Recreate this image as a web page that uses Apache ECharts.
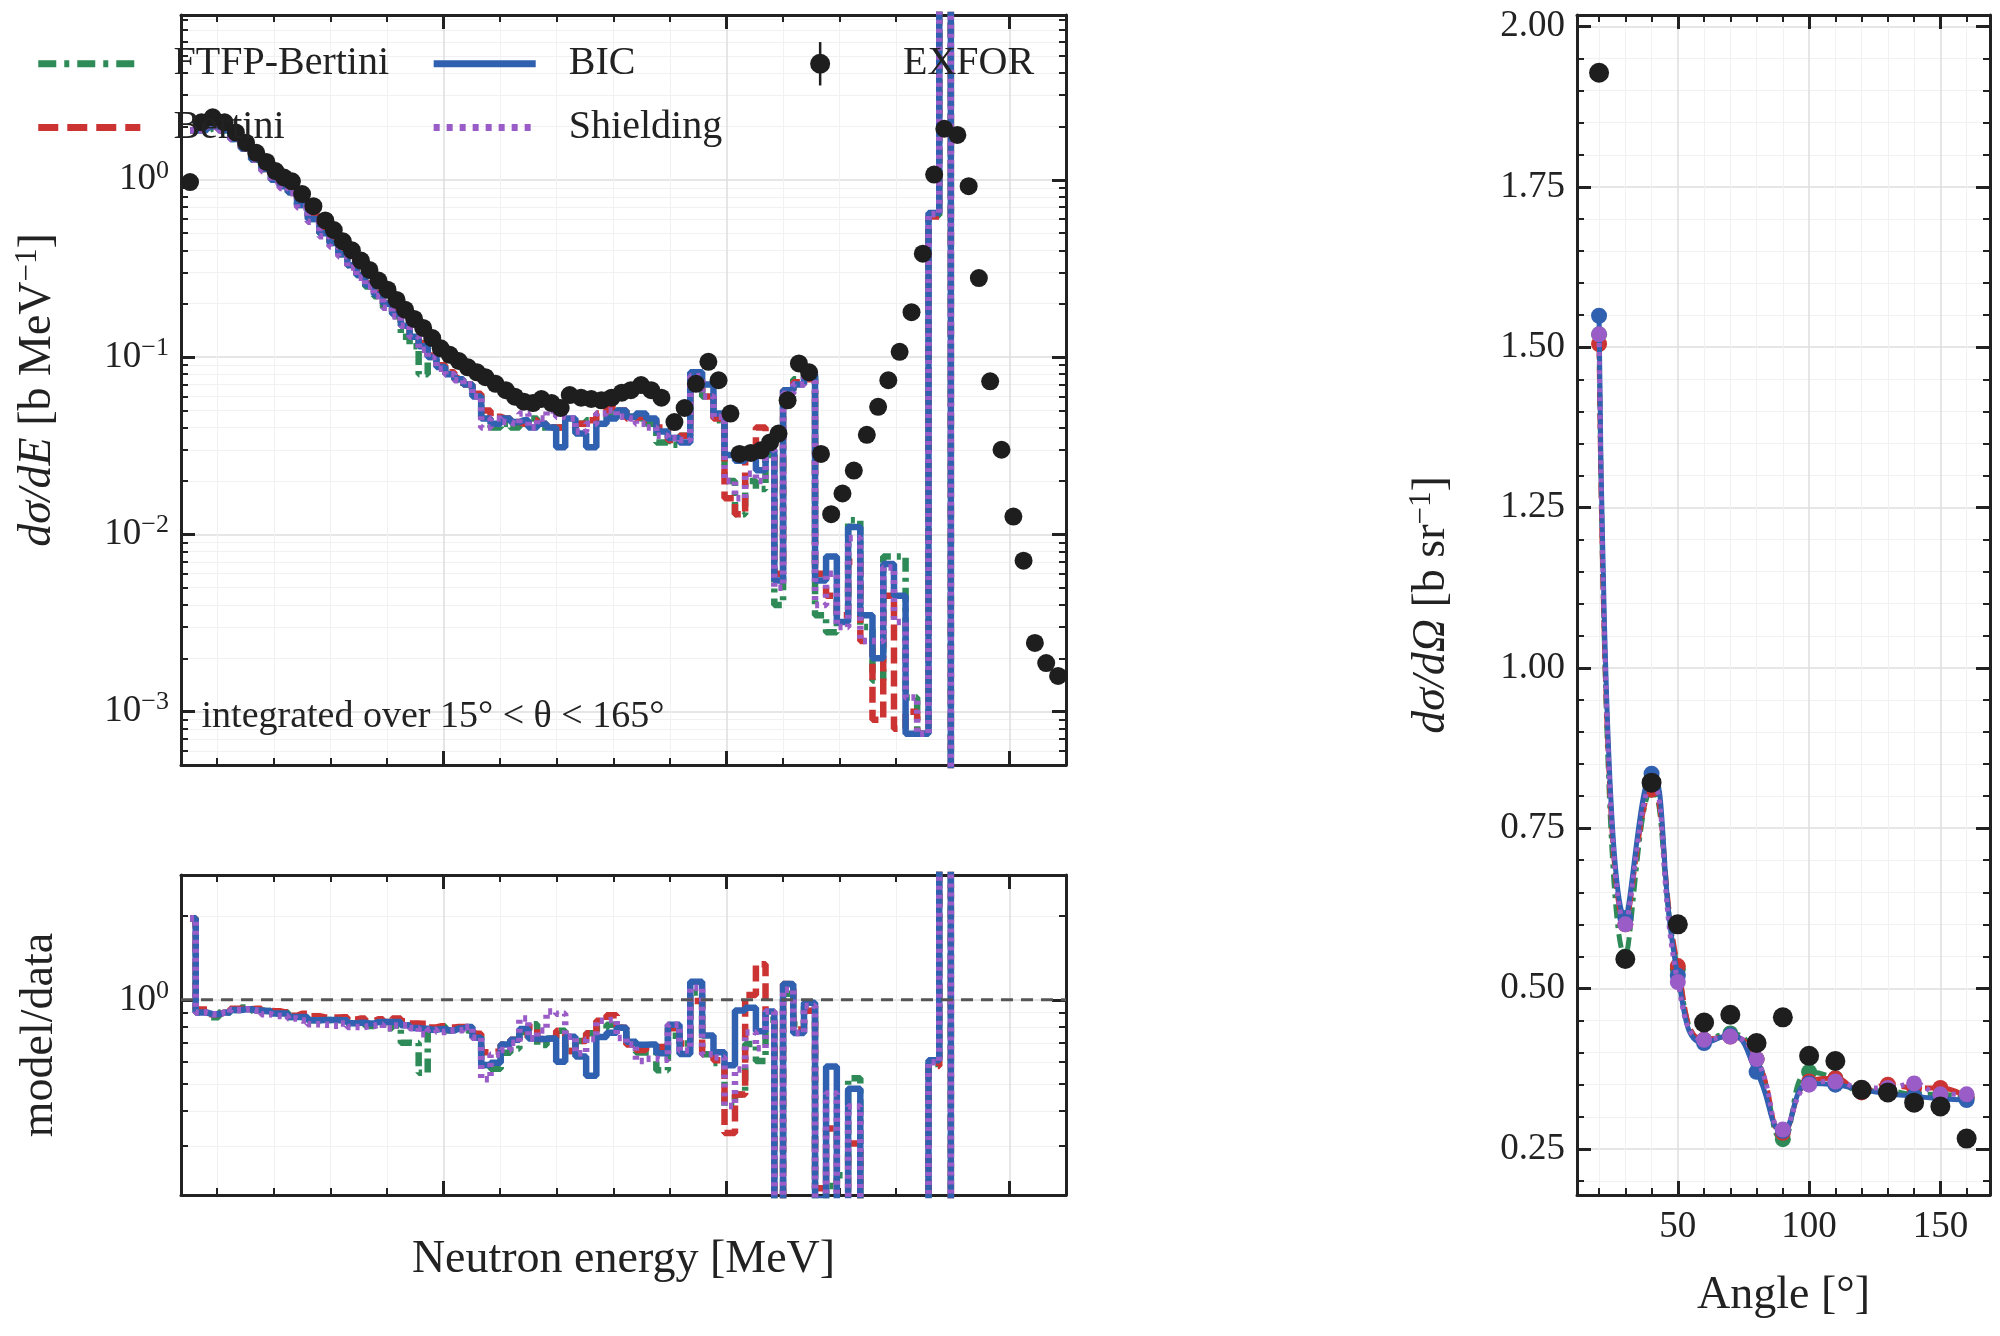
<!DOCTYPE html>
<html><head><meta charset="utf-8">
<script src="https://cdn.jsdelivr.net/npm/echarts@6/dist/echarts.min.js"></script>
<style>html,body{margin:0;padding:0;background:#fff}#c{width:2000px;height:1336px}</style>
</head><body><div id="c"></div>
<script>
// ---- data ----
const energy = [5.2,7.2,9.2,11.3,13.3,15.1,16.9,18.7,20.3,21.8,
23.2,25.0,27.0,29.1,30.6,32.2,33.8,35.4,36.9,38.5,
40.1,41.7,43.2,44.8,46.4,48.0,49.5,51.1,52.7,54.3,
55.9,57.4,59.2,61.0,62.6,64.2,65.8,67.3,69.1,70.7,
72.3,74.3,76.1,77.9,79.7,81.5,83.1,84.9,86.7,88.5,
90.8,92.6,94.6,96.8,98.6,100.7,102.3,104.3,106.1,107.7,
109.2,110.8,112.8,114.6,116.7,118.5,120.5,122.5,124.8,126.8,
128.6,130.6,132.7,134.7,136.7,138.5,140.8,142.8,144.6,146.6,
148.6,150.7,152.5,154.5,156.5,158.6];
const exforE = [0.97,2.11,2.25,2.11,1.85,1.62,1.42,1.26,1.12,1.03,
0.98,0.83,0.71,0.59,0.52,0.45,0.40,0.35,0.31,0.27,
0.24,0.21,0.185,0.164,0.146,0.128,0.112,0.103,0.095,0.0875,
0.082,0.077,0.0706,0.065,0.0598,0.056,0.055,0.058,0.055,0.0516,
0.061,0.059,0.058,0.057,0.059,0.063,0.065,0.0695,0.065,0.059,
0.043,0.0516,0.0706,0.094,0.074,0.048,0.0284,0.0288,0.0298,0.033,
0.037,0.057,0.092,0.082,0.0284,0.013,0.017,0.0229,0.0364,0.0524,
0.074,0.107,0.179,0.383,1.07,1.94,1.79,0.92,0.279,0.073,
0.030,0.0126,0.0071,0.00244,0.00188,0.00159];
const bicE = [1.9,1.9,2.0,1.9,1.7,1.5,1.3,1.15,1.0,0.92,
0.85,0.72,0.6,0.5,0.44,0.38,0.33,0.29,0.255,0.225,
0.2,0.175,0.15,0.13,0.115,0.1,0.088,0.08,0.075,0.07,
0.06,0.045,0.042,0.045,0.043,0.044,0.04,0.042,0.04,0.031,
0.045,0.037,0.031,0.042,0.045,0.05,0.046,0.048,0.045,0.038,
0.035,0.033,0.082,0.07,0.048,0.028,0.026,0.027,0.023,0.03,
0.0055,0.065,0.07,0.08,0.0055,0.0075,0.0032,0.011,0.0035,0.002,
0.0068,0.0045,0.00075,0.00075,0.65,20,1e-6,1e-6,1e-6,1e-6,
1e-6,1e-6,1e-6,1e-6,1e-6,1e-6];
const bertiniE = [1.9,1.95,2.0,1.9,1.72,1.5,1.32,1.15,1.02,0.93,
0.86,0.74,0.62,0.51,0.45,0.39,0.34,0.3,0.26,0.23,
0.2,0.18,0.155,0.135,0.12,0.102,0.09,0.082,0.076,0.07,
0.062,0.05,0.046,0.045,0.043,0.042,0.044,0.042,0.04,0.04,
0.04,0.042,0.044,0.048,0.052,0.05,0.045,0.046,0.044,0.04,
0.034,0.036,0.07,0.06,0.045,0.016,0.013,0.03,0.04,0.028,
0.006,0.065,0.072,0.075,0.006,0.0045,0.0035,0.007,0.0025,0.0009,
0.0045,0.0008,0.001,0.00075,0.62,20,1e-6,1e-6,1e-6,1e-6,
1e-6,1e-6,1e-6,1e-6,1e-6,1e-6];
const ftfpE = [1.9,1.9,1.95,1.9,1.7,1.52,1.3,1.15,1.0,0.93,
0.85,0.72,0.6,0.5,0.44,0.38,0.33,0.29,0.25,0.22,
0.19,0.17,0.13,0.115,0.08,0.1,0.09,0.08,0.075,0.068,
0.062,0.045,0.04,0.042,0.04,0.043,0.045,0.04,0.04,0.04,
0.04,0.042,0.044,0.045,0.048,0.05,0.046,0.045,0.042,0.033,
0.032,0.036,0.075,0.06,0.044,0.02,0.013,0.02,0.018,0.028,
0.004,0.06,0.075,0.078,0.0035,0.0028,0.004,0.012,0.003,0.0015,
0.0075,0.0075,0.0012,0.00075,0.63,20,1e-6,1e-6,1e-6,1e-6,
1e-6,1e-6,1e-6,1e-6,1e-6,1e-6];
const shieldingE = [1.9,1.9,2.0,1.9,1.7,1.5,1.3,1.12,0.98,0.9,
0.84,0.7,0.58,0.48,0.42,0.37,0.32,0.28,0.25,0.22,
0.19,0.17,0.15,0.13,0.11,0.1,0.086,0.08,0.074,0.07,
0.06,0.04,0.045,0.043,0.042,0.048,0.04,0.045,0.05,0.046,
0.045,0.038,0.042,0.048,0.05,0.046,0.045,0.042,0.04,0.036,
0.035,0.034,0.078,0.06,0.046,0.02,0.016,0.022,0.02,0.03,
0.005,0.062,0.07,0.078,0.004,0.006,0.003,0.0095,0.0025,0.0025,
0.0065,0.0032,0.0012,0.00075,0.64,20,1e-6,1e-6,1e-6,1e-6,
1e-6,1e-6,1e-6,1e-6,1e-6,1e-6];

const angle = [20,30,40,50,60,70,80,90,100,110,120,130,140,150,160];
const exforA = [1.928,0.546,0.821,0.600,0.447,0.459,0.415,0.455,0.395,0.387,0.342,0.338,0.322,0.316,0.266];
const bicA = [1.549,0.61,0.835,0.52,0.415,0.427,0.37,0.278,0.352,0.35,0.342,0.336,0.332,0.328,0.326];
const bertiniA = [1.505,0.60,0.81,0.535,0.42,0.425,0.39,0.275,0.355,0.36,0.338,0.35,0.345,0.345,0.33];
const ftfpA = [1.52,0.55,0.81,0.53,0.42,0.43,0.39,0.265,0.37,0.36,0.34,0.34,0.335,0.335,0.33];
const shieldingA = [1.52,0.60,0.82,0.51,0.42,0.425,0.39,0.28,0.35,0.355,0.345,0.345,0.352,0.335,0.335];

const yTicksAng = [0.25,0.5,0.75,1.0,1.25,1.5,1.75,2.0];
// ---- styling ----
const F = 'Liberation Serif';
const C = {ftfp:'#2e8b57', bertini:'#cc3333', bic:'#3060b0', shield:'#9a5cc6', exfor:'#1e1e1e'};
const models = [
  {name:'FTFP-Bertini', e:ftfpE, a:ftfpA, color:C.ftfp, type:[14,6,4,6], z:2},
  {name:'Bertini', e:bertiniE, a:bertiniA, color:C.bertini, type:[16,7], z:3},
  {name:'BIC', e:bicE, a:bicA, color:C.bic, type:'solid', z:4},
  {name:'Shielding', e:shieldingE, a:shieldingA, color:C.shield, type:[4,5], z:5}
];
const pair = (xs, ys) => xs.map((x,i)=>[x, ys[i]]);
function range(a,b,s){const r=[];for(let v=a;v<=b+1e-9;v+=s)r.push(+v.toFixed(6));return r;}
const sup = e => '10{s|' + (e<0 ? '−'+(-e) : e) + '}';

function xAxes(grid, min, max, majors, minors, labels, name){
  const base = {type:'value', gridIndex:grid, min, max, axisLine:{show:false}, axisLabel:{show:false}};
  return [
    Object.assign({}, base, {position:'bottom', axisLine:{show:true, lineStyle:{color:'#222', width:3}},
      axisTick:{show:true, inside:true, length:14, lineStyle:{color:'#222', width:3}, customValues:majors},
      axisLabel:{show:labels, customValues:majors, fontFamily:F, fontSize:37, color:'#222', margin:14},
      splitLine:{show:true, customValues:majors, lineStyle:{color:'#dedede', width:1.5}},
      name:name||'', nameLocation:'middle', nameGap:55, nameTextStyle:{fontFamily:F, fontSize:46, color:'#222'}}),
    Object.assign({}, base, {position:'bottom', axisTick:{show:true, inside:true, length:7, lineStyle:{color:'#222', width:2}, customValues:minors},
      splitLine:{show:true, customValues:minors, lineStyle:{color:'#f1f1f1', width:1}}}),
    Object.assign({}, base, {position:'top', axisLine:{show:true, lineStyle:{color:'#222', width:3}},
      axisTick:{show:true, inside:true, length:14, lineStyle:{color:'#222', width:3}, customValues:majors}, splitLine:{show:false}}),
    Object.assign({}, base, {position:'top', axisTick:{show:true, inside:true, length:7, lineStyle:{color:'#222', width:2}, customValues:minors}, splitLine:{show:false}})
  ];
}
function yAxes(grid, type, min, max, majors, minors, fmt, name){
  const base = {type, gridIndex:grid, min, max, axisLine:{show:false}, axisLabel:{show:false}};
  if (type==='log') base.logBase = 10;
  return [
    Object.assign({}, base, {position:'left', axisLine:{show:true, lineStyle:{color:'#222', width:3}},
      axisTick:{show:true, inside:true, length:14, lineStyle:{color:'#222', width:3}, customValues:majors},
      axisLabel:{show:true, customValues:majors, formatter:fmt, fontFamily:F, fontSize:37, color:'#222', margin:12,
        rich:{s:{fontFamily:F, fontSize:26, color:'#222', padding:[0,0,18,0]}}},
      splitLine:{show:true, customValues:majors, lineStyle:{color:'#dedede', width:1.5}},
      name:name, nameLocation:'middle', nameRotate:90,
      nameTextStyle:{fontFamily:F, fontSize:46, color:'#222',
        rich:{i:{fontFamily:F, fontStyle:'italic', fontSize:46, color:'#222'}, s:{fontFamily:F, fontSize:31, color:'#222', padding:[0,0,20,0]}}}}),
    Object.assign({}, base, {position:'left', axisTick:{show:true, inside:true, length:7, lineStyle:{color:'#222', width:2}, customValues:minors},
      splitLine:{show:true, customValues:minors, lineStyle:{color:'#f1f1f1', width:1}}}),
    Object.assign({}, base, {position:'right', axisLine:{show:true, lineStyle:{color:'#222', width:3}},
      axisTick:{show:true, inside:true, length:14, lineStyle:{color:'#222', width:3}, customValues:majors}, splitLine:{show:false}}),
    Object.assign({}, base, {position:'right', axisTick:{show:true, inside:true, length:7, lineStyle:{color:'#222', width:2}, customValues:minors}, splitLine:{show:false}})
  ];
}
const logMinors = [];
[1e-4,1e-3,1e-2,1e-1,1].forEach(d=>{for(let k=2;k<=9;k++){const v=+(d*k).toPrecision(3); if(v>0.0005&&v<8.5) logMinors.push(v);}});
const ratioMinors = [0.3,0.4,0.5,0.6,0.7,0.8,0.9,2];
const eMinors = range(10,160,10).filter(v=>v%50!==0);
const logFmt = v => sup(Math.round(Math.log10(v)));

const xA = [].concat(
  xAxes(0, 3.6, 160, [50,100,150], eMinors, false),
  xAxes(1, 3.6, 160, [50,100,150], eMinors, false, 'Neutron energy [MeV]'),
  xAxes(2, 11.6, 168.9, [50,100,150], range(10,160,10).filter(v=>v%50!==0), true, 'Angle [°]')
);
xA[4].nameGap = 42; xA[8].nameGap = 78;
const yA = [].concat(
  yAxes(0, 'log', 0.0005, 8.5, [0.001,0.01,0.1,1], logMinors, logFmt, '{i|dσ/dE} [b MeV{s|−1}]'),
  yAxes(1, 'log', 0.2, 2.8, [1], ratioMinors, logFmt, 'model/data'),
  yAxes(2, 'value', 0.178, 2.018, yTicksAng, range(0.2,2.0,0.05).filter(v=>Math.abs(v/0.25-Math.round(v/0.25))>1e-6), v=>v.toFixed(2), '{i|dσ/dΩ} [b sr{s|−1}]')
);
yA[0].nameGap = 118; yA[4].nameGap = 118; yA[8].nameGap = 120;

const series = [];
models.forEach(m=>{
  const ls = {color:m.color, width:6.5, type:m.type};
  series.push({name:m.name, type:'line', step:'middle', xAxisIndex:0, yAxisIndex:0, data:pair(energy, m.e), showSymbol:false, lineStyle:ls, z:m.z});
  series.push({name:m.name, type:'line', step:'middle', xAxisIndex:4, yAxisIndex:4,
    data:energy.map((x,i)=>[x, m.e[i]/exforE[i]]), showSymbol:false, lineStyle:ls, z:m.z});
  series.push({name:m.name, type:'line', smooth:true, xAxisIndex:8, yAxisIndex:8, data:pair(angle, m.a),
    symbol:'circle', symbolSize:16, itemStyle:{color:m.color, opacity:1}, lineStyle:{color:m.color, width:5, type:m.type}, z:m.z});
});
series.push({name:'EXFOR', type:'scatter', xAxisIndex:0, yAxisIndex:0, data:pair(energy, exforE), symbolSize:18, itemStyle:{color:C.exfor, opacity:1}, z:6});
series.push({name:'EXFOR', type:'scatter', xAxisIndex:8, yAxisIndex:8, data:pair(angle, exforA), symbolSize:20, itemStyle:{color:C.exfor, opacity:1}, z:6});
series.push({type:'line', xAxisIndex:4, yAxisIndex:4, data:[[3.6,1],[160,1]], showSymbol:false, lineStyle:{color:'#555', width:3, type:[12,8]}, z:6, silent:true});

const S = 1.2755;
const leg = [];
function legLine(x, y, color, dash){ leg.push({type:'line', shape:{x1:x*S, y1:y*S, x2:(x+80)*S, y2:y*S}, style:{stroke:color, lineWidth:7, lineDash:dash}, z:20}); }
function legText(x, y, t){ leg.push({type:'text', x:x*S, y:y*S, style:{text:t, font:'40px "Liberation Serif"', fill:'#222', textVerticalAlign:'middle'}, z:21}); }
legLine(30,50,C.ftfp,[18,8,5,8]); legText(136,50,'FTFP-Bertini');
legLine(340,50,C.bic,null); legText(446,50,'BIC');
leg.push({type:'circle', shape:{cx:643*S, cy:50*S, r:10}, style:{fill:C.exfor}, z:20});
leg.push({type:'line', shape:{x1:643*S, y1:33*S, x2:643*S, y2:67*S}, style:{stroke:C.exfor, lineWidth:2.5}, z:20});
legText(708,50,'EXFOR');
legLine(30,100,C.bertini,[20,9]); legText(136,100,'Bertini');
legLine(340,100,C.shield,[6,7]); legText(446,100,'Shielding');
leg.push({type:'text', x:158*S, y:562*S, style:{text:'integrated over 15° < θ < 165°', font:'38px "Liberation Serif"', fill:'#222', textVerticalAlign:'middle'}, z:21});

const chart = echarts.init(document.getElementById('c'));
chart.setOption({
  animation:false, backgroundColor:'#fff',
  grid:[
    {left:181, top:15, width:885, height:750},
    {left:181, top:875, width:885, height:320},
    {left:1577, top:15, width:413, height:1180}
  ],
  xAxis:xA, yAxis:yA, series, graphic:leg
});
</script></body></html>
